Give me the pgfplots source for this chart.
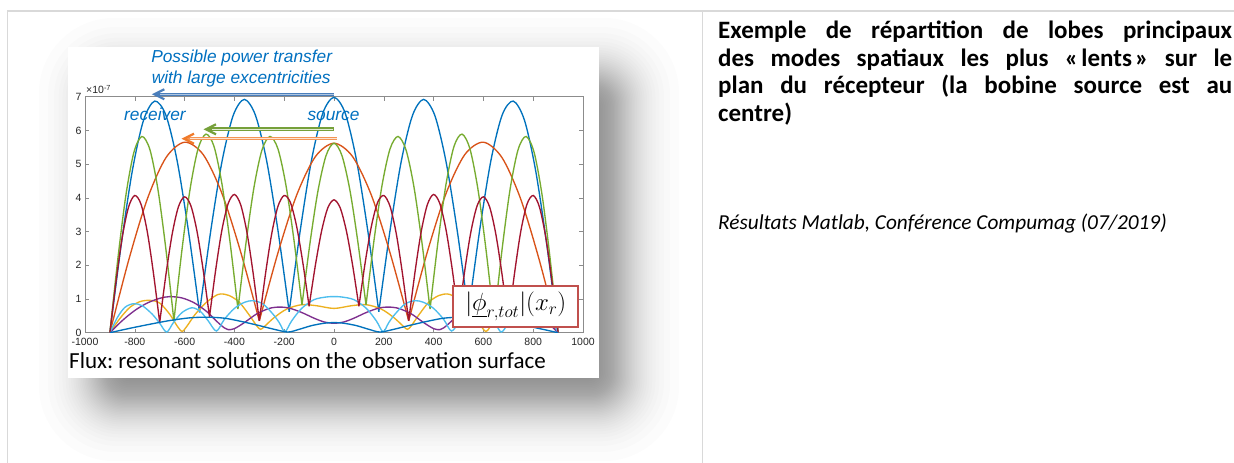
\documentclass[border=0pt]{standalone}
\usepackage{fontspec}
\setmainfont{Carlito}
\newfontfamily\arial{Liberation Sans}
\usepackage{pgfplots}
\pgfplotsset{compat=1.18}
\definecolor{mblue}{HTML}{0072BD}
\definecolor{morange}{HTML}{D95319}
\definecolor{myellow}{HTML}{EDB120}
\definecolor{mpurple}{HTML}{7E2F8E}
\definecolor{mgreen}{HTML}{77AC30}
\definecolor{mcyan}{HTML}{4DBEEE}
\definecolor{mred}{HTML}{A2142F}
\definecolor{axgray}{HTML}{8C8C8C}
\definecolor{tablegray}{HTML}{D9D9D9}
\definecolor{annblue}{HTML}{0070C0}
\definecolor{arblue}{HTML}{4A7EBB}
\definecolor{argreen}{HTML}{76A03A}
\definecolor{arorange}{HTML}{F07A2A}
\definecolor{boxred}{HTML}{C0504D}
\frenchspacing
\begin{document}
\begin{tikzpicture}[x=1pt,y=1pt]
\useasboundingbox (0,0) rectangle (1234,463);
\fill[white] (0,0) rectangle (1234,463);
% table lines
\draw[tablegray, line width=1.4pt] (7.5,452) -- (1234,452);
\draw[tablegray, line width=1.4pt] (7.5,0) -- (7.5,452.7);
\draw[tablegray, line width=1.4pt] (702.7,0) -- (702.7,452);
% soft shadow under the picture: faint layers, offsets follow a logistic spread
\foreach \i in {2,...,49} {
  \pgfmathsetmacro\p{(\i-0.5)/50}
  \pgfmathsetmacro\e{17*ln((1-\p)/\p)}
  \pgfmathsetmacro\r{max(8,28+0.8*\e)}
  \fill[black, fill opacity=0.0131, rounded corners=\r pt]
    ({98-\e},{61-\e}) rectangle ({620+\e},{386+\e});
}
\fill[white] (68.3,85.3) rectangle (599,416.3);

\begin{axis}[
  at={(85pt,130.3pt)}, anchor=south west,
  scale only axis, width=498pt, height=236pt,
  xmin=-1000, xmax=1000, ymin=0, ymax=7,
  xtick={-1000,-800,...,1000},
  xticklabels={-1000,-800,-600,-400,-200,0,200,400,600,800,1000},
  ytick={0,1,...,7},
  yticklabels={0,1,2,3,4,5,6,7},
  tick align=inside, major tick length=4pt,
  tick style={axgray, line width=0.6pt},
  axis line style={axgray, line width=0.8pt},
  ticklabel style={font=\arial\fontsize{10.5}{12}\selectfont, text=black!85},
  xticklabel style={yshift=-1.5pt},
  unbounded coords=jump,
  every axis plot/.append style={line width=1.35pt, smooth},
]
% mode 1 - blue
\addplot[mblue] coordinates {
(-900,0) (-855,2.59) (-810,4.80) (-765,6.30) (-720,6.87) (-675,6.45) (-630,5.10) (-585,3.04) (-540,0.6) (-540,nan)
(-540,0.6) (-495,3.02) (-450,5.07) (-405,6.44) (-360,6.92) (-315,6.44) (-270,5.08) (-225,3.03) (-180,0.62) (-180,nan)
(-180,0.62) (-135,3.06) (-90,5.13) (-45,6.51) (0,6.98) (45,6.51) (90,5.13) (135,3.06) (180,0.62) (180,nan)
(180,0.62) (225,3.03) (270,5.08) (315,6.44) (360,6.92) (405,6.44) (450,5.07) (495,3.02) (540,0.6) (540,nan)
(540,0.6) (585,3.04) (630,5.10) (675,6.45) (720,6.87) (765,6.30) (810,4.80) (855,2.59) (900,0)
};
% mode 2 - orange
\addplot[morange] coordinates {
(-900,0) (-825,2.14) (-750,3.96) (-675,5.19) (-600,5.65) (-525,5.28) (-450,4.13) (-375,2.40) (-300,0.35) (-300,nan)
(-300,0.35) (-225,2.37) (-150,4.08) (-75,5.22) (0,5.62) (75,5.22) (150,4.08) (225,2.37) (300,0.35) (300,nan)
(300,0.35) (375,2.40) (450,4.13) (525,5.28) (600,5.65) (675,5.19) (750,3.96) (825,2.14) (900,0)
};
% mode 3 - yellow
\addplot[myellow] coordinates {
(-900,0) (-860,0.42) (-820,0.75) (-780,0.92) (-740,0.96) (-700,0.88) (-660,0.55) (-630,0.2) (-610,0.04) (-590,0.2) (-560,0.52) (-520,0.85) (-480,1.08) (-455,1.15) (-420,1.1) (-380,0.9) (-340,0.52) (-310,0.2) (-295,0.1) (-280,0.18) (-240,0.45) (-190,0.7) (-130,0.83) (-70,0.8) (0,0.72) (70,0.8) (130,0.83) (190,0.7) (240,0.45) (280,0.18) (295,0.1) (310,0.2) (340,0.52) (380,0.9) (420,1.1) (455,1.15) (480,1.08) (520,0.85) (560,0.52) (590,0.2) (610,0.04) (630,0.2) (660,0.55) (700,0.88) (740,0.96) (780,0.92) (820,0.75) (860,0.42) (900,0)
};
% mode 4 - purple
\addplot[mpurple] coordinates {
(-900,0) (-850,0.36) (-800,0.66) (-750,0.88) (-700,1.02) (-660,1.07) (-610,1.03) (-560,0.88) (-510,0.62) (-470,0.33) (-440,0.14) (-425,0.09) (-400,0.12) (-360,0.3) (-310,0.56) (-260,0.72) (-220,0.76) (-180,0.73) (-130,0.6) (-80,0.43) (-40,0.32) (0,0.28) (40,0.32) (80,0.43) (130,0.6) (180,0.73) (220,0.76) (260,0.72) (310,0.56) (360,0.3) (400,0.12) (425,0.09) (440,0.14) (470,0.33) (510,0.62) (560,0.88) (610,1.03) (660,1.07) (700,1.02) (750,0.88) (800,0.66) (850,0.36) (900,0)
};
% mode 5 - green
\addplot[mgreen] coordinates {
(-900,0) (-867.9,2.20) (-835.7,4.08) (-803.6,5.35) (-771.4,5.82) (-739.3,5.43) (-707.1,4.25) (-675,2.47) (-642.9,0.35) (-642.9,nan)
(-642.9,0.35) (-610.7,2.45) (-578.6,4.23) (-546.4,5.44) (-514.3,5.89) (-482.1,5.53) (-450,4.41) (-417.9,2.71) (-385.7,0.7) (-385.7,nan)
(-385.7,0.7) (-353.6,2.65) (-321.4,4.31) (-289.3,5.42) (-257.1,5.82) (-225,5.45) (-192.9,4.37) (-160.7,2.74) (-128.6,0.82) (-128.6,nan)
(-128.6,0.82) (-96.4,2.66) (-64.3,4.21) (-32.1,5.25) (0,5.62) (32.1,5.25) (64.3,4.21) (96.4,2.66) (128.6,0.82) (128.6,nan)
(128.6,0.82) (160.7,2.74) (192.9,4.37) (225,5.45) (257.1,5.82) (289.3,5.42) (321.4,4.31) (353.6,2.65) (385.7,0.7) (385.7,nan)
(385.7,0.7) (417.9,2.71) (450,4.41) (482.1,5.53) (514.3,5.89) (546.4,5.44) (578.6,4.23) (610.7,2.45) (642.9,0.35) (642.9,nan)
(642.9,0.35) (675,2.47) (707.1,4.25) (739.3,5.43) (771.4,5.82) (803.6,5.35) (835.7,4.08) (867.9,2.20) (900,0)
};
% mode 6 - light blue
\addplot[mcyan] coordinates {
(-900,0) (-870,0.45) (-840,0.75) (-805,0.86) (-770,0.8) (-730,0.55) (-700,0.28) (-672,0.02) (-645,0.3) (-610,0.6) (-570,0.74) (-535,0.62) (-505,0.35) (-472,0.05) (-440,0.4) (-400,0.72) (-360,0.9) (-325,0.95) (-285,0.85) (-245,0.55) (-220,0.3) (-197,0.03) (-170,0.35) (-130,0.72) (-80,0.98) (-30,1.06) (0,1.07) (30,1.06) (80,0.98) (130,0.72) (170,0.35) (197,0.03) (220,0.3) (245,0.55) (285,0.85) (325,0.95) (360,0.9) (400,0.72) (440,0.4) (472,0.05) (505,0.35) (535,0.62) (570,0.74) (610,0.6) (645,0.3) (672,0.02) (700,0.28) (730,0.55) (770,0.8) (805,0.86) (840,0.75) (870,0.45) (900,0)
};
% mode 7 - dark red
\addplot[mred] coordinates {
(-900,0) (-875,1.54) (-850,2.85) (-825,3.73) (-800,4.07) (-775,3.81) (-750,3.0) (-725,1.76) (-700,0.3) (-700,nan)
(-700,0.3) (-675,1.72) (-650,2.92) (-625,3.73) (-600,4.03) (-575,3.77) (-550,3.0) (-525,1.84) (-500,0.47) (-500,nan)
(-500,0.47) (-475,1.87) (-450,3.05) (-425,3.83) (-400,4.1) (-375,3.80) (-350,2.99) (-325,1.78) (-300,0.35) (-300,nan)
(-300,0.35) (-275,1.75) (-250,2.94) (-225,3.75) (-200,4.07) (-175,3.86) (-150,3.15) (-125,2.07) (-100,0.78) (-100,nan)
(-100,0.78) (-75,1.99) (-50,3.01) (-25,3.70) (0,3.94) (25,3.70) (50,3.01) (75,1.99) (100,0.78) (100,nan)
(100,0.78) (125,2.07) (150,3.15) (175,3.86) (200,4.07) (225,3.75) (250,2.94) (275,1.75) (300,0.35) (300,nan)
(300,0.35) (325,1.78) (350,2.99) (375,3.80) (400,4.1) (425,3.83) (450,3.05) (475,1.87) (500,0.47) (500,nan)
(500,0.47) (525,1.84) (550,3.0) (575,3.77) (600,4.03) (625,3.73) (650,2.92) (675,1.72) (700,0.3) (700,nan)
(700,0.3) (725,1.76) (750,3.0) (775,3.81) (800,4.07) (825,3.73) (850,2.85) (875,1.54) (900,0)
};
% mode 8 - blue
\addplot[mblue] coordinates {
(-900,0) (-820,0.13) (-740,0.25) (-660,0.36) (-580,0.44) (-510,0.46) (-440,0.43) (-370,0.33) (-300,0.21) (-240,0.1) (-185,0.02) (-140,0.1) (-90,0.21) (-40,0.28) (0,0.3) (40,0.28) (90,0.21) (140,0.1) (185,0.02) (240,0.1) (300,0.21) (370,0.33) (440,0.43) (510,0.46) (580,0.44) (660,0.36) (740,0.25) (820,0.13) (900,0)
};
\end{axis}

% exponent label
\node[anchor=base west, inner sep=0pt, text=black!85, font=\arial\fontsize{10.5}{12}\selectfont] at (86,369) {×10\textsuperscript{-7}};

% annotations
\node[anchor=base, inner sep=0pt, text=annblue, font=\arial\itshape\fontsize{17.3}{20}\selectfont] at (241.7,400.3) {Possible power transfer};
\node[anchor=base, inner sep=0pt, text=annblue, font=\arial\itshape\fontsize{17.3}{20}\selectfont] at (241.2,379.7) {with large excentricities};
\node[anchor=base west, inner sep=0pt, text=annblue, font=\arial\itshape\fontsize{17.3}{20}\selectfont] at (124,342) {receiver};
\node[anchor=base west, inner sep=0pt, text=annblue, font=\arial\itshape\fontsize{17.3}{20}\selectfont] at (307.3,342) {source};

% arrows (double shafts, open heads)
\draw[arblue, line width=3pt] (157,368.7) -- (334.3,368.7);
\draw[arblue!45, line width=1pt] (160,368.7) -- (333.5,368.7);
\draw[arblue, line width=2.2pt, line join=miter] (164.3,373.7) -- (154.3,368.7) -- (164.3,363.7);

\draw[argreen, line width=3.6pt] (209,333.7) -- (334,333.7);
\draw[argreen!20, line width=1.4pt] (212,333.7) -- (333.3,333.7);
\draw[argreen, line width=2.2pt, line join=miter] (216,338.7) -- (206,333.7) -- (216,328.7);

\draw[arorange!80, line width=3.6pt] (187,324.3) -- (337.3,324.3);
\draw[arorange!20, line width=1.4pt] (190,324.3) -- (336.6,324.3);
\draw[arorange, line width=2.2pt, line join=miter] (194,329.3) -- (184,324.3) -- (194,319.3);

% formula box
\node[draw=boxred, line width=2pt, fill=white, minimum width=125pt, minimum height=41.7pt, inner sep=0pt] at (515.8,156.5) {\fontsize{26}{30}\selectfont $|\underline{\phi}_{r,tot}|(x_r)$};

% caption under the picture
\node[anchor=base west, inner sep=0pt, font=\fontsize{23}{27}\selectfont] at (69,94.7) {Flux: resonant solutions on the observation surface};

% right column text
\node[anchor=base west, inner sep=0pt, font=\bfseries\fontsize{25}{28}\selectfont] at (718,424) {\makebox[514pt][s]{Exemple de répartition de lobes principaux}};
\node[anchor=base west, inner sep=0pt, font=\bfseries\fontsize{25}{28}\selectfont] at (718,396.5) {\makebox[514pt][s]{des modes spatiaux les plus «\kern3pt lents\kern3pt» sur le}};
\node[anchor=base west, inner sep=0pt, font=\bfseries\fontsize{25}{28}\selectfont] at (718,369) {\makebox[514pt][s]{plan du récepteur (la bobine source est au}};
\node[anchor=base west, inner sep=0pt, font=\bfseries\fontsize{25}{28}\selectfont] at (718,341.5) {centre)};
\node[anchor=base west, inner sep=0pt, font=\itshape\fontsize{21.3}{25}\selectfont] at (718,233) {Résultats Matlab, Conférence Compumag (07/2019)};
\end{tikzpicture}
\end{document}
